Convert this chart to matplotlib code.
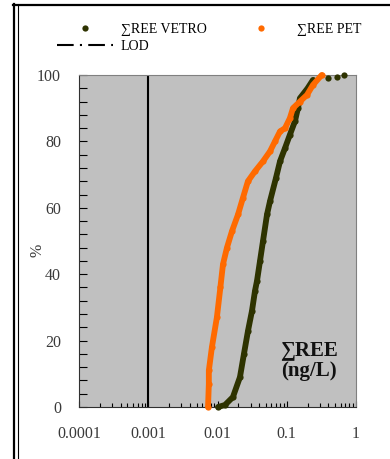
import matplotlib
matplotlib.use("Agg")
from matplotlib import pyplot as plt
from matplotlib.lines import Line2D
from matplotlib.ticker import FixedLocator, LogLocator, NullFormatter, MultipleLocator

# cumulative distributions of summed REE (ng/L), read as value / cumulative %
vetro_conc = [0.0102, 0.0128, 0.0167, 0.0211, 0.0241, 0.0276, 0.0315, 0.0348, 0.0372,
              0.0411, 0.0454, 0.0519, 0.0573, 0.0699, 0.0799, 0.0944, 0.111, 0.131,
              0.145, 0.155, 0.200, 0.239, 0.39, 0.53, 0.67]
vetro_pct = [0, 0.6, 3, 9, 16, 23, 29, 35, 38, 44, 50, 58, 62, 69, 74, 78, 82, 86,
             90, 93, 96, 98.5, 99.0, 99.4, 100]

pet_conc = [0.0073, 0.0075, 0.0075, 0.0083, 0.0098, 0.0110, 0.0120, 0.0137, 0.0162,
            0.0198, 0.0233, 0.0275, 0.0348, 0.0454, 0.0573, 0.0676, 0.0799, 0.0944,
            0.111, 0.123, 0.155, 0.196, 0.239, 0.320]
pet_pct = [0, 7, 11, 18, 27, 36, 43, 48, 53, 58, 63, 68, 71, 74, 77, 80, 83, 84,
           87, 90, 92, 94, 97, 100]

lod = 0.001
xticks = [0.0001, 0.001, 0.01, 0.1, 1]
xticklabels = ["0.0001", "0.001", "0.01", "0.1", "1"]
yticks = [0, 20, 40, 60, 80, 100]

green = "#2e3300"
orange = "#ff6a00"
serif = ["Liberation Serif", "DejaVu Serif"]

plt.rcParams["font.family"] = serif

fig = plt.figure(figsize=(3.9, 4.59), dpi=100)
ax = fig.add_axes([79 / 390, 52 / 459, 277 / 390, 332 / 459])
ax.set_facecolor("#c0c0c0")

# LOD line
ax.axvline(lod, color="black", lw=1.5, zorder=2)

# thick band through the dense points, then the points themselves
n_line = len(vetro_conc) - 3
ax.plot(vetro_conc[:n_line], vetro_pct[:n_line], "-", color=green, lw=4.2,
        solid_capstyle="round", solid_joinstyle="round", zorder=3, clip_on=False)
ax.plot(vetro_conc, vetro_pct, "o", color=green, ms=4.5, mew=0, zorder=3, clip_on=False)
ax.plot(pet_conc, pet_pct, "-", color=orange, lw=4.2,
        solid_capstyle="round", solid_joinstyle="round", zorder=4, clip_on=False)
ax.plot(pet_conc, pet_pct, "o", color=orange, ms=4.5, mew=0, zorder=4, clip_on=False)

ax.set_xscale("log")
ax.set_xlim(0.0001, 1)
ax.set_ylim(0, 100)

ax.xaxis.set_major_locator(FixedLocator(xticks))
ax.set_xticklabels(xticklabels)
ax.xaxis.set_minor_locator(LogLocator(base=10, subs=range(2, 10)))
ax.xaxis.set_minor_formatter(NullFormatter())
ax.set_yticks(yticks)
ax.yaxis.set_minor_locator(MultipleLocator(4))

ax.tick_params(axis="x", which="major", direction="in", length=4, width=0.8,
               pad=14, labelsize=11.5, labelcolor="#3a3a3a")
ax.tick_params(axis="x", which="minor", direction="in", length=3, width=0.8)
ax.tick_params(axis="y", which="major", direction="in", length=6, width=0.8,
               pad=13, labelsize=11.5, labelcolor="#3a3a3a")
ax.tick_params(axis="y", which="minor", direction="in", length=6, width=0.8)

for side in ["top", "right"]:
    ax.spines[side].set_color("#808080")
for side in ["left", "bottom"]:
    ax.spines[side].set_color("#303030")

fig.text(37 / 390, 1 - 250 / 459, "%", rotation=90, ha="center", va="center",
         fontsize=11.5, color="#3a3a3a")

ax.text(0.83, 0.14, "∑REE\n(ng/L)", transform=ax.transAxes, ha="center", va="center",
        fontsize=15, fontweight="bold", linespacing=1.0, color="#111111")

# legend across the top
handles = [
    Line2D([], [], ls="none", marker="o", color=green, ms=4.5, mew=0),
    Line2D([], [], ls=(0, (8, 3, 1, 3)), color="black", lw=1.5),
    Line2D([], [], ls="none", marker="o", color=orange, ms=4.5, mew=0),
]
labels = ["∑REE VETRO", "LOD", "∑REE PET"]
fig.legend(handles, labels, loc="upper left", bbox_to_anchor=(50 / 390, 1 - 16 / 459),
           ncol=2, frameon=False, fontsize=10, handlelength=4.0, handletextpad=0.58,
           columnspacing=1.95, labelspacing=0.3, borderpad=0)

# outer frame
fig.add_artist(Line2D([13.5 / 390, 13.5 / 390], [0, 1 - 4 / 459], color="black", lw=1.6))
fig.add_artist(Line2D([17.5 / 390, 17.5 / 390], [0, 1 - 6 / 459], color="black", lw=0.8))
fig.add_artist(Line2D([13 / 390, 1], [1 - 5 / 459, 1 - 5 / 459], color="black", lw=1.6))

fig.savefig("out.png", dpi=100)
